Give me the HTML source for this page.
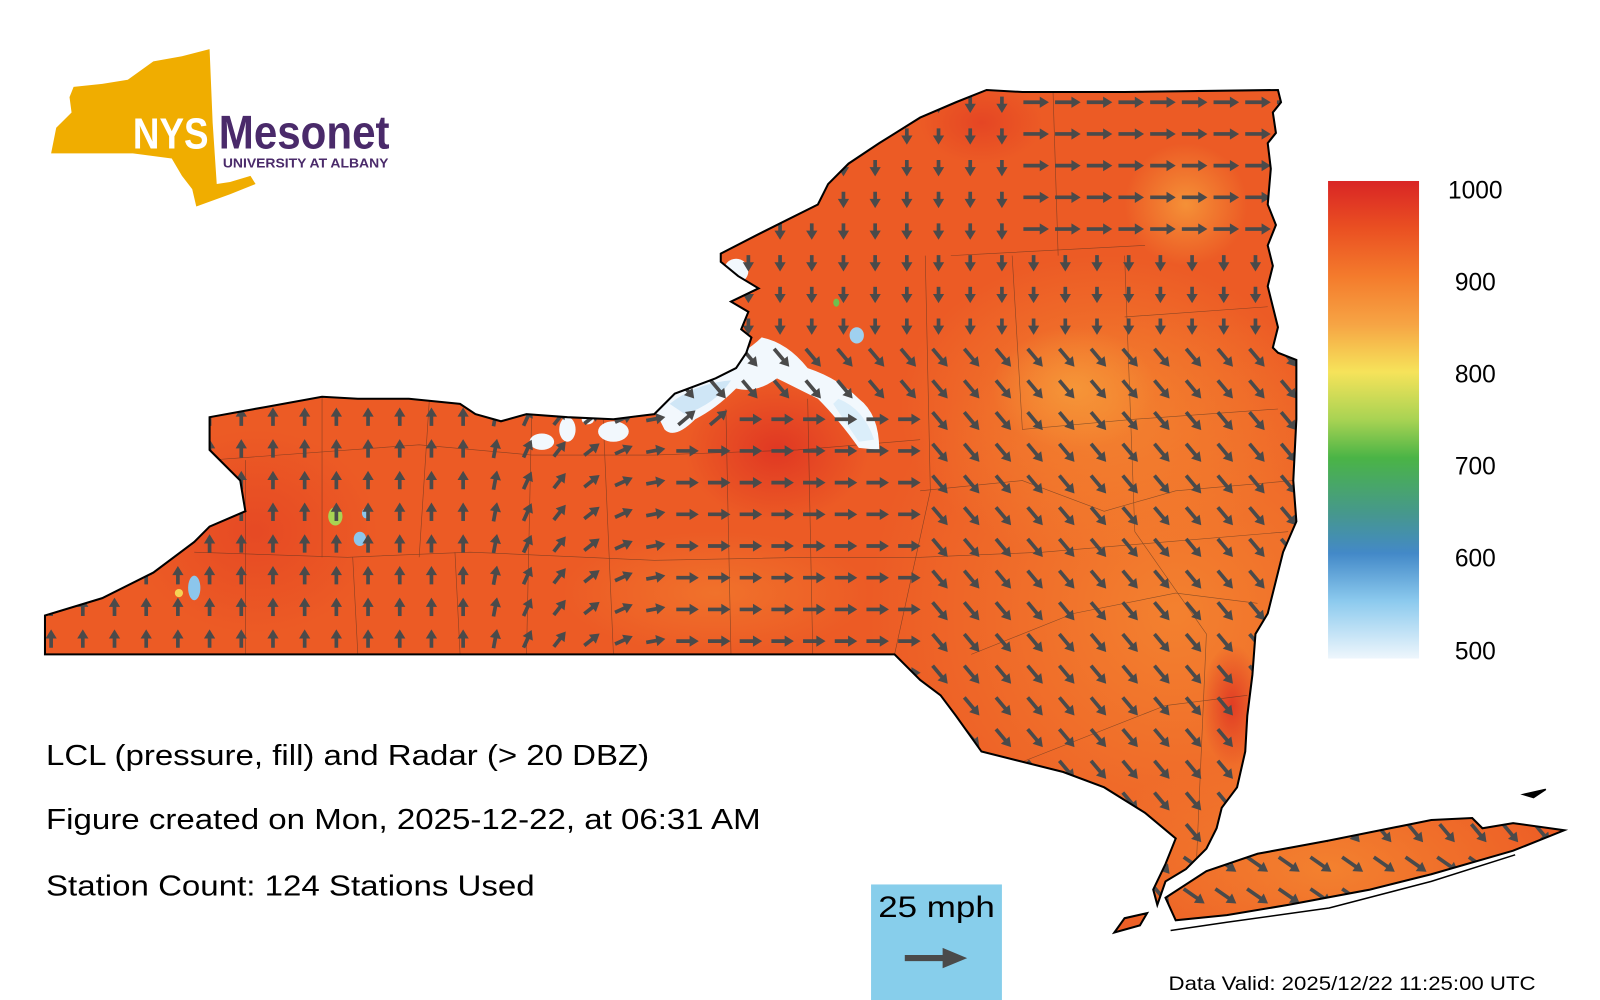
<!DOCTYPE html>
<html><head><meta charset="utf-8"><style>html,body{margin:0;padding:0;background:#fff}svg{display:block}</style></head>
<body>
<svg id="s" xmlns="http://www.w3.org/2000/svg" width="1600" height="1000" viewBox="0 0 1565 978" preserveAspectRatio="none" font-family="Liberation Sans, sans-serif">
<defs>
<linearGradient id="cb" x1="0" y1="0" x2="0" y2="1">
<stop offset="0" stop-color="#d92525"/><stop offset="0.1" stop-color="#ea5022"/><stop offset="0.2" stop-color="#f47b2c"/><stop offset="0.3" stop-color="#f6a444"/><stop offset="0.4" stop-color="#f6e35a"/><stop offset="0.5" stop-color="#a8d353"/><stop offset="0.58" stop-color="#4ab446"/><stop offset="0.7" stop-color="#46978f"/><stop offset="0.78" stop-color="#4389c8"/><stop offset="0.88" stop-color="#8ccaee"/><stop offset="1" stop-color="#eef6fc"/>
</linearGradient>
<clipPath id="ny"><path id="nyp" d="M44,640 L44,602 L100,585 L150,560 L190,530 L205,515 L240,500 L235,470 L215,450 L205,440 L205,408 L260,398 L315,388 L350,390 L400,390 L450,395 L465,405 L490,412 L515,405 L555,408 L600,410 L640,405 L660,385 L700,370 L720,360 L730,345 L735,330 L725,322 L732,305 L715,295 L742,282 L722,270 L705,256 L705,248 L740,230 L770,215 L800,200 L810,180 L830,160 L860,140 L900,115 L935,100 L965,88 L1000,90 L1100,90 L1250,88 L1253,100 L1245,110 L1248,130 L1240,140 L1243,165 L1240,200 L1248,220 L1240,240 L1245,260 L1240,280 L1245,300 L1250,320 L1245,340 L1250,345 L1268,352 L1268,410 L1265,470 L1268,510 L1255,540 L1240,600 L1228,620 L1225,660 L1220,700 L1218,735 L1210,770 L1195,790 L1190,810 L1180,830 L1160,850 L1140,862 L1132,885 L1128,870 L1140,845 L1150,820 L1120,795 L1080,770 L1040,755 L1000,745 L960,735 L935,700 L920,680 L900,665 L875,640 Z M1140,878 L1180,852 L1230,835 L1300,822 L1350,812 L1400,802 L1440,800 L1450,810 L1480,805 L1530,812 L1480,832 L1400,855 L1340,870 L1260,885 L1200,895 L1150,900 Z M1090,912 L1100,898 L1122,893 L1115,905 Z"/></clipPath>
<radialGradient id="r1"><stop offset="0" stop-color="#dd2f22" stop-opacity="0.8"/><stop offset="1" stop-color="#dd2f22" stop-opacity="0"/></radialGradient>
<radialGradient id="r2"><stop offset="0" stop-color="#f69a3a" stop-opacity="0.85"/><stop offset="1" stop-color="#f69a3a" stop-opacity="0"/></radialGradient>
<radialGradient id="r3"><stop offset="0" stop-color="#f48530" stop-opacity="0.9"/><stop offset="1" stop-color="#f48530" stop-opacity="0"/></radialGradient>
</defs>
<g clip-path="url(#ny)">
<rect x="0" y="0" width="1565" height="978" fill="#ec5b25"/>
<ellipse cx="1150" cy="600" rx="300" ry="300" fill="url(#r3)"/>
<ellipse cx="1300" cy="850" rx="250" ry="120" fill="url(#r3)"/>
<ellipse cx="1080" cy="400" rx="200" ry="150" fill="url(#r3)"/>
<ellipse cx="1160" cy="200" rx="60" ry="60" fill="url(#r2)"/>
<ellipse cx="1050" cy="380" rx="80" ry="60" fill="url(#r2)"/>
<ellipse cx="760" cy="440" rx="90" ry="70" fill="url(#r1)"/>
<ellipse cx="1205" cy="690" rx="30" ry="60" fill="url(#r1)"/>
<ellipse cx="960" cy="120" rx="60" ry="40" fill="url(#r1)" opacity="0.6"/>
<ellipse cx="250" cy="520" rx="120" ry="100" fill="url(#r1)" opacity="0.5"/>
<ellipse cx="700" cy="580" rx="150" ry="60" fill="url(#r3)" opacity="0.6"/>
<g fill="none" stroke="#3a2a20" stroke-width="0.6" opacity="0.55">
<path d="M205,450 L410,435 L520,445 L640,445 L780,440 L900,430"/>
<path d="M190,540 L340,545 L460,540 L640,548 L790,545 L900,545 L1020,540 L1260,520"/>
<path d="M315,388 L315,545 M420,390 L410,545 M520,405 L515,640 M590,410 L600,640 M710,400 L715,640 M790,390 L795,640 M905,250 L910,480 L875,640"/>
<path d="M930,250 L1120,240 M1030,90 L1035,250 M990,250 L1000,420 L1110,410 L1250,400 M1100,310 L1240,300"/>
<path d="M900,480 L1000,470 L1080,500 L1150,480 L1265,470 M950,640 L1050,600 L1150,580 L1230,590 M1000,745 L1140,690 L1220,680"/>
<path d="M1100,250 L1110,520 L1180,620 L1170,850"/>
<path d="M240,640 L240,450 M350,640 L345,545 M450,640 L445,540"/>
</g>
<g id="radar">
<path d="M640,400 Q650,370 690,365 Q730,345 745,330 Q770,335 790,360 Q820,370 840,390 Q860,405 860,440 L840,438 Q820,410 800,390 Q780,380 760,370 Q740,385 720,380 Q700,400 680,410 Q660,430 650,420 Z" fill="#f2f8fd"/>
<path d="M655,395 Q680,375 715,372 Q700,395 670,405 Z" fill="#cfe6f6"/>
<path d="M820,390 Q845,400 855,430 L840,432 Q825,410 815,395 Z" fill="#dbeefa"/>
<ellipse cx="530" cy="432" rx="12" ry="8" fill="#f2f8fd"/>
<ellipse cx="555" cy="420" rx="8" ry="12" fill="#f2f8fd"/>
<ellipse cx="600" cy="422" rx="15" ry="10" fill="#f2f8fd"/>
<ellipse cx="575" cy="410" rx="6" ry="5" fill="#f2f8fd"/>
<ellipse cx="720" cy="265" rx="12" ry="12" fill="#f2f8fd"/>
<ellipse cx="838" cy="328" rx="7" ry="8" fill="#9fd0ef"/>
<ellipse cx="818" cy="296" rx="3" ry="4" fill="#6fbf4e"/>
<ellipse cx="328" cy="505" rx="7" ry="9" fill="#a8d353"/>
<ellipse cx="352" cy="527" rx="6" ry="7" fill="#8cc6ec"/>
<ellipse cx="358" cy="502" rx="4" ry="5" fill="#8cc6ec"/>
<ellipse cx="190" cy="575" rx="6" ry="12" fill="#8cc6ec"/>
<ellipse cx="175" cy="580" rx="4" ry="4" fill="#f6d355"/>
</g>
<g id="arrows" fill="#4a4a4a" stroke="#4a4a4a"></g>
</g>
<use href="#nyp" fill="none" stroke="#000" stroke-width="2"/>
<path d="M1145,910 L1200,902 L1300,888 L1400,862 L1482,836" fill="none" stroke="#000" stroke-width="1.5"/>
<path d="M1490,777 L1512,772 L1500,780 Z" fill="#000" stroke="#000" stroke-width="1.5"/>
<rect x="1299" y="177" width="89" height="467" fill="url(#cb)"/>
<g font-size="24" fill="#000" text-anchor="middle">
<text x="1443" y="194">1000</text><text x="1443" y="284">900</text><text x="1443" y="374">800</text><text x="1443" y="464">700</text><text x="1443" y="554">600</text><text x="1443" y="645">500</text>
</g>
<path d="M50,150 L55,125 L70,110 L68,95 L72,85 L100,82 L125,78 L150,60 L178,55 L205,48 L208,120 L210,150 L212,180 L225,178 L245,172 L250,180 L225,190 L192,202 L188,185 L178,172 L168,155 L130,150 Z" fill="#f0ad00"/>
<text x="130" y="145" font-size="43" font-weight="bold" fill="#fff" textLength="74" lengthAdjust="spacingAndGlyphs">NYS</text>
<text x="214" y="145" font-size="46" font-weight="bold" fill="#4a2a6a" textLength="167" lengthAdjust="spacingAndGlyphs">Mesonet</text>
<text x="218" y="164" font-size="13" font-weight="bold" fill="#4a2a6a" textLength="162" lengthAdjust="spacingAndGlyphs">UNIVERSITY AT ALBANY</text>
<g font-size="28" fill="#000">
<text x="45" y="748" textLength="590" lengthAdjust="spacingAndGlyphs">LCL (pressure, fill) and Radar (&gt; 20 DBZ)</text>
<text x="45" y="811" textLength="699" lengthAdjust="spacingAndGlyphs">Figure created on Mon, 2025-12-22, at 06:31 AM</text>
<text x="45" y="876" textLength="478" lengthAdjust="spacingAndGlyphs">Station Count: 124 Stations Used</text>
</g>
<rect x="852" y="865" width="128" height="113" fill="#87ceeb"/>
<text x="916" y="897" font-size="29" text-anchor="middle" fill="#000" textLength="114" lengthAdjust="spacingAndGlyphs">25 mph</text>
<path d="M885,937 L928,937" stroke="#4a4a4a" stroke-width="6"/>
<path d="M922,927 L946,937 L922,947 Z" fill="#4a4a4a"/>
<text x="1143" y="968" font-size="19" fill="#000" textLength="359" lengthAdjust="spacingAndGlyphs">Data Valid: 2025/12/22 11:25:00 UTC</text>
</svg>
<script>
(function(){
var g=document.getElementById('arrows'),h='';
for(var y=100;y<=905;y+=31){for(var x=50;x<=1530;x+=31){
var xx=x,a,L;
if(xx<460){a=-90;L=13;}
else if(xx<640){a=-90+(xx-460)/180*80;L=14;}
else if(xx<900 && y>380){a=0;L=17;}
else if(y<250 && xx>1000){a=0;L=20;}
else if(y<330){a=90;L=11;}
else {a=50;L=18;}
if(y>380&&xx>640&&xx<720&&y<440){a=-40;}
if(xx>1150&&y>820){a=35;L=20;}
var r=a*Math.PI/180,c=Math.cos(r),s=Math.sin(r);
var x2=xx+c*L/2,y2=y+s*L/2,x1=xx-c*L/2,y1=y-s*L/2;
var hx=x2+c*5,hy=y2+s*5;
var px=-s*5.5,py=c*5.5;
h+='<line x1="'+x1.toFixed(1)+'" y1="'+y1.toFixed(1)+'" x2="'+x2.toFixed(1)+'" y2="'+y2.toFixed(1)+'" stroke-width="3.6"/>';
h+='<polygon stroke="none" points="'+hx.toFixed(1)+','+hy.toFixed(1)+' '+(x2-c*4+px).toFixed(1)+','+(y2-s*4+py).toFixed(1)+' '+(x2-c*4-px).toFixed(1)+','+(y2-s*4-py).toFixed(1)+'"/>';
}}
g.innerHTML=h;
})();
</script>
</body></html>
